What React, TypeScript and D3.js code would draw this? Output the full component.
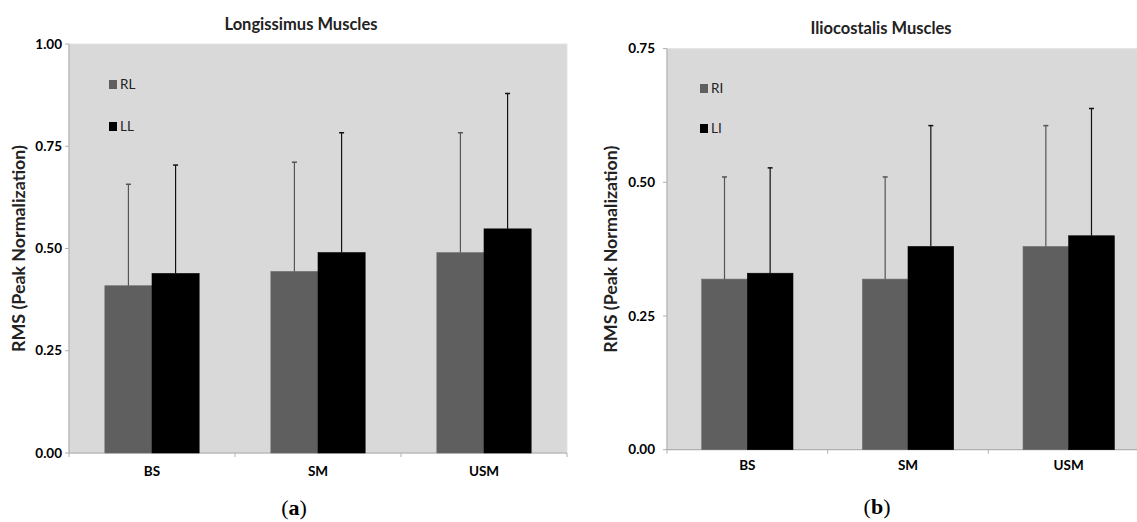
import * as d3 from 'd3';
import { useRef, useEffect } from 'react';

const categories = ['BS', 'SM', 'USM'];

// (a) Longissimus muscles: mean RMS and SD (upper error bars only)
const longSeries = ['RL', 'LL'];
const longRL = [0.409, 0.444, 0.49];
const longLL = [0.439, 0.49, 0.548];
const longRLsd = [0.248, 0.267, 0.293];
const longLLsd = [0.265, 0.293, 0.331];
const longTicks = [0, 0.25, 0.5, 0.75, 1.0];

// (b) Iliocostalis muscles
const ilioSeries = ['RI', 'LI'];
const ilioRI = [0.319, 0.319, 0.38];
const ilioLI = [0.33, 0.38, 0.4];
const ilioRIsd = [0.191, 0.191, 0.226];
const ilioLIsd = [0.197, 0.226, 0.238];
const ilioTicks = [0, 0.25, 0.5, 0.75];

const barColors = ['#5f5f5f', '#000000'];
const errColors = ['#555555', '#111111'];
const FONT = 'Lato, "Open Sans", sans-serif';

type Panel = {
  title: string;
  label: string;
  series: string[];
  values: number[][];
  sds: number[][];
  ticks: number[];
  left: number;
  right: number;
  top: number;
  bottom: number;
  titleX: number;
  titleY: number;
  yTitleX: number;
  tickRight: number;
  xLabelY: number;
  legendX: number;
  legendY: number[];
  labelX: number;
  labelY: number;
};

function drawPanel(svg: d3.Selection<SVGSVGElement, unknown, null, undefined>, p: Panel) {
  const g = svg.append('g');

  const x0 = d3.scaleBand<string>().domain(categories).range([p.left, p.right]);
  const x1 = d3.scaleBand<string>().domain(p.series).range([0, x0.bandwidth()]).paddingOuter(0.76);
  const y = d3.scaleLinear().domain([0, d3.max(p.ticks)!]).range([p.bottom, p.top]);

  // plot background
  g.append('rect')
    .attr('x', p.left).attr('y', p.top)
    .attr('width', p.right - p.left).attr('height', p.bottom - p.top)
    .attr('fill', '#d9d9d9').attr('stroke', '#e4e4e4');

  // y axis
  g.append('line')
    .attr('x1', p.left).attr('x2', p.left).attr('y1', p.top).attr('y2', p.bottom)
    .attr('stroke', '#a6a6a6');
  g.selectAll('.ytick').data(p.ticks).enter().append('line')
    .attr('x1', p.left - 4).attr('x2', p.left)
    .attr('y1', d => y(d)).attr('y2', d => y(d))
    .attr('stroke', '#b0b0b0');
  g.selectAll('.ylab').data(p.ticks).enter().append('text')
    .attr('x', p.tickRight).attr('y', d => y(d)).attr('dy', '0.35em')
    .attr('text-anchor', 'end')
    .attr('font-family', FONT).attr('font-weight', 700).attr('font-size', 13.5)
    .text(d => d3.format('.2f')(d));

  // x axis
  g.append('line')
    .attr('x1', p.left).attr('x2', p.right).attr('y1', p.bottom).attr('y2', p.bottom)
    .attr('stroke', '#a6a6a6');
  const bounds = categories.map(c => x0(c)!).concat([p.right]);
  g.selectAll('.xtick').data(bounds).enter().append('line')
    .attr('x1', d => d).attr('x2', d => d)
    .attr('y1', p.bottom).attr('y2', p.bottom + 4)
    .attr('stroke', '#b0b0b0');
  g.selectAll('.xlab').data(categories).enter().append('text')
    .attr('x', d => x0(d)! + x0.bandwidth() / 2).attr('y', p.xLabelY)
    .attr('text-anchor', 'middle')
    .attr('font-family', FONT).attr('font-weight', 700).attr('font-size', 13.5)
    .text(d => d);

  // bars + upper error bars
  p.series.forEach((s, si) => {
    const rows = categories.map((c, ci) => ({ c, v: p.values[si][ci], sd: p.sds[si][ci] }));
    const bx = (d: { c: string }) => x0(d.c)! + x1(s)!;
    g.selectAll(`.bar${si}`).data(rows).enter().append('rect')
      .attr('x', bx).attr('y', d => y(d.v))
      .attr('width', x1.bandwidth()).attr('height', d => y(0) - y(d.v))
      .attr('fill', barColors[si])
      .attr('stroke', si === 0 ? '#6e6e6e' : '#000').attr('stroke-width', 0.6);
    g.selectAll(`.err${si}`).data(rows).enter().append('line')
      .attr('x1', d => bx(d) + x1.bandwidth() / 2).attr('x2', d => bx(d) + x1.bandwidth() / 2)
      .attr('y1', d => y(d.v)).attr('y2', d => y(d.v + d.sd))
      .attr('stroke', errColors[si]).attr('stroke-width', 1.2);
    g.selectAll(`.cap${si}`).data(rows).enter().append('line')
      .attr('x1', d => bx(d) + x1.bandwidth() / 2 - 2.5).attr('x2', d => bx(d) + x1.bandwidth() / 2 + 2.5)
      .attr('y1', d => y(d.v + d.sd)).attr('y2', d => y(d.v + d.sd))
      .attr('stroke', errColors[si]).attr('stroke-width', 1.5);
  });

  // legend
  p.series.forEach((s, si) => {
    g.append('rect')
      .attr('x', p.legendX).attr('y', p.legendY[si])
      .attr('width', 8).attr('height', 9)
      .attr('fill', barColors[si]);
    g.append('text')
      .attr('x', p.legendX + 11).attr('y', p.legendY[si] + 9)
      .attr('font-family', FONT).attr('font-size', 13.5).attr('fill', '#222')
      .text(s);
  });

  // titles
  g.append('text')
    .attr('x', p.titleX).attr('y', p.titleY)
    .attr('text-anchor', 'middle')
    .attr('font-family', FONT).attr('font-weight', 700).attr('font-size', 16.5)
    .attr('fill', '#222')
    .text(p.title);
  g.append('text')
    .attr('transform', `translate(${p.yTitleX},${(p.top + p.bottom) / 2}) rotate(-90)`)
    .attr('dy', '0.35em')
    .attr('text-anchor', 'middle')
    .attr('font-family', FONT).attr('font-weight', 700).attr('font-size', 16.5)
    .attr('textLength', 207).attr('lengthAdjust', 'spacingAndGlyphs')
    .attr('fill', '#222')
    .text('RMS (Peak Normalization)');

  // panel label "(a)" / "(b)"
  const lab = g.append('text')
    .attr('x', p.labelX).attr('y', p.labelY)
    .attr('text-anchor', 'middle')
    .attr('font-family', '"Liberation Serif", "DejaVu Serif", serif').attr('font-size', 22);
  lab.append('tspan').text('(');
  lab.append('tspan').attr('font-weight', 700).text(p.label);
  lab.append('tspan').text(')');
}

export default function App() {
  const ref = useRef<SVGSVGElement>(null);

  useEffect(() => {
    const svg = d3.select(ref.current!);
    svg.selectAll('*').remove();

    drawPanel(svg, {
      title: 'Longissimus Muscles', label: 'a',
      series: longSeries, values: [longRL, longLL], sds: [longRLsd, longLLsd], ticks: longTicks,
      left: 69, right: 567, top: 44, bottom: 453,
      titleX: 301, titleY: 30, yTitleX: 19, tickRight: 62, xLabelY: 476,
      legendX: 109, legendY: [80, 122], labelX: 294, labelY: 515,
    });

    drawPanel(svg, {
      title: 'Iliocostalis Muscles', label: 'b',
      series: ilioSeries, values: [ilioRI, ilioLI], sds: [ilioRIsd, ilioLIsd], ticks: ilioTicks,
      left: 667, right: 1149, top: 48.6, bottom: 449.7,
      titleX: 881, titleY: 34, yTitleX: 611, tickRight: 655, xLabelY: 470,
      legendX: 700, legendY: [84, 124], labelX: 877, labelY: 514,
    });
  }, []);

  return (
    <svg
      ref={ref}
      width={1137}
      height={522}
      style={{ position: 'absolute', left: 0, top: 0, background: '#fff' }}
    />
  );
}
